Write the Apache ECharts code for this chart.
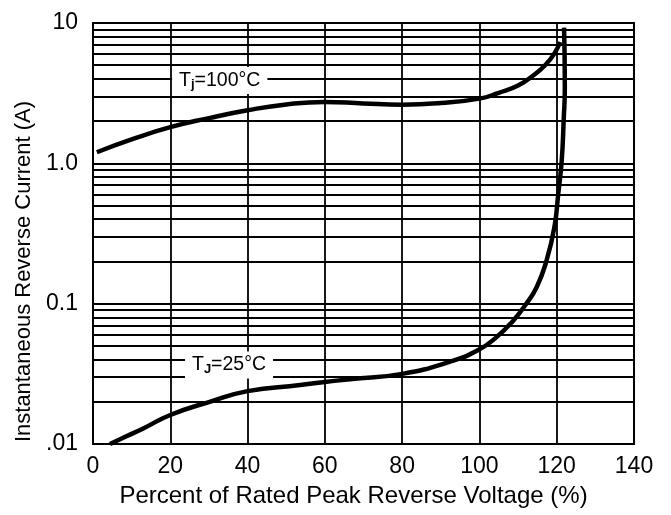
<!DOCTYPE html>
<html>
<head>
<meta charset="utf-8">
<script src="https://cdn.jsdelivr.net/npm/echarts@6/dist/echarts.min.js"></script>
<style>
html,body{margin:0;padding:0;background:#fff;}
#chart{width:671px;height:515px;}
</style>
</head>
<body>
<div id="chart"></div>
<script>
// ---- data ----
var xTicks = [0, 20, 40, 60, 80, 100, 120, 140];
var yTickLabels = {"0.01": ".01", "0.1": "0.1", "1": "1.0", "10": "10"};
var minorGrid = [0.02,0.03,0.04,0.05,0.06,0.07,0.08,0.09,
                 0.2,0.3,0.4,0.5,0.6,0.7,0.8,0.9,
                 2,3,4,5,6,7,8,9];
var curve100 = [
  [1, 1.2], [10, 1.48], [20, 1.81], [30, 2.1], [40, 2.39], [50, 2.63],
  [60, 2.74], [70, 2.67], [80, 2.62], [90, 2.69], [100, 2.89],
  [105, 3.18], [110, 3.58], [114, 4.24], [117, 5.0], [119.3, 6.0], [120.9, 7.32]
];
var curve25 = [
  [4.4, 0.01], [8.5, 0.0113], [13, 0.0129], [20, 0.0161], [30, 0.0199],
  [40, 0.0238], [53.6, 0.0263], [60, 0.0277], [66.5, 0.0289], [80, 0.0316],
  [92.4, 0.0386], [99.7, 0.0467], [104.5, 0.058], [108.8, 0.076], [111.8, 0.097],
  [114.8, 0.131], [117.4, 0.204], [119.4, 0.351], [120.4, 0.608], [121.3, 1.05],
  [121.8, 2.03], [122.1, 3.5], [121.9, 9.27]
];
var labelPos = [[32.8, 3.9], [35.2, 0.0366]];
var labelText = ["{t|T}{s|j}{t|=100°C}", "{t|T}{s|J}{t|=25°C}"];

var chart = echarts.init(document.getElementById('chart'));
var black = '#000';
var tickFont = 'Liberation Sans Narrow, Arial Narrow, sans-serif';
var textFont = 'Liberation Sans, Arial, sans-serif';

var labelStyle = {
  show: true, position: 'inside', backgroundColor: '#fff', padding: [3, 7, 3, 7],
  color: black, fontSize: 19.5, fontFamily: textFont,
  rich: {
    t: {fontFamily: textFont, fontSize: 19.5, color: black, lineHeight: 21},
    s: {fontFamily: textFont, fontSize: 13, color: black, lineHeight: 21, padding: [8, 0, 0, 0], fontWeight: 'bold'}
  }
};

var option = {
  animation: false,
  backgroundColor: '#fff',
  grid: {left: 93, right: 37, top: 23, bottom: 71, show: true, borderColor: black, borderWidth: 2},
  xAxis: {
    type: 'value', min: 0, max: 140, interval: 20,
    name: 'Percent of Rated Peak Reverse Voltage (%)',
    nameLocation: 'middle', nameGap: 40,
    nameTextStyle: {fontFamily: textFont, fontSize: 24, color: black, padding: [0, 20, 0, 0]},
    axisLine: {show: true, lineStyle: {color: black, width: 2}},
    axisTick: {show: false},
    axisLabel: {fontFamily: tickFont, fontSize: 23, color: black, margin: 11,
      formatter: function (v) { return xTicks.indexOf(v) >= 0 ? String(v) : ''; }},
    splitLine: {show: true, lineStyle: {color: black, width: 1.8}}
  },
  yAxis: {
    type: 'log', logBase: 10, min: 0.01, max: 10,
    name: 'Instantaneous Reverse Current (A)',
    nameLocation: 'middle', nameGap: 53,
    nameTextStyle: {fontFamily: textFont, fontSize: 22, color: black, padding: [0, 76, 0, 0]},
    axisLine: {show: true, lineStyle: {color: black, width: 2}},
    axisTick: {show: false},
    axisLabel: {fontFamily: tickFont, fontSize: 23, color: black, margin: 15,
      formatter: function (v) {
        var k = String(+v.toPrecision(3));
        return yTickLabels[k] !== undefined ? yTickLabels[k] : '';
      }},
    splitLine: {show: true, lineStyle: {color: black, width: 1.8}}
  },
  series: [
    {
      type: 'line', name: 'grid', z: 1, data: [], symbol: 'none', silent: true,
      markLine: {
        silent: true, symbol: 'none', label: {show: false},
        lineStyle: {color: black, width: 1.8, type: 'solid'},
        data: minorGrid.map(function (v) { return {yAxis: v}; })
      }
    },
    {
      type: 'line', name: 'Tj=100', z: 5, data: curve100, symbol: 'none', smooth: 0.5,
      lineStyle: {color: black, width: 4.5}
    },
    {
      type: 'line', name: 'Tj=25', z: 5, data: curve25, symbol: 'none', smooth: 0.5,
      lineStyle: {color: black, width: 4.5}
    },
    {
      type: 'line', name: 'labels', z: 4, data: [], symbol: 'none', silent: true,
      markPoint: {
        silent: true, symbol: 'rect', symbolSize: 1,
        itemStyle: {color: 'rgba(0,0,0,0)'},
        label: labelStyle,
        data: labelPos.map(function (p, i) {
          return {coord: p, value: i, label: {formatter: labelText[i]}};
        })
      }
    }
  ]
};
chart.setOption(option);
</script>
</body>
</html>
